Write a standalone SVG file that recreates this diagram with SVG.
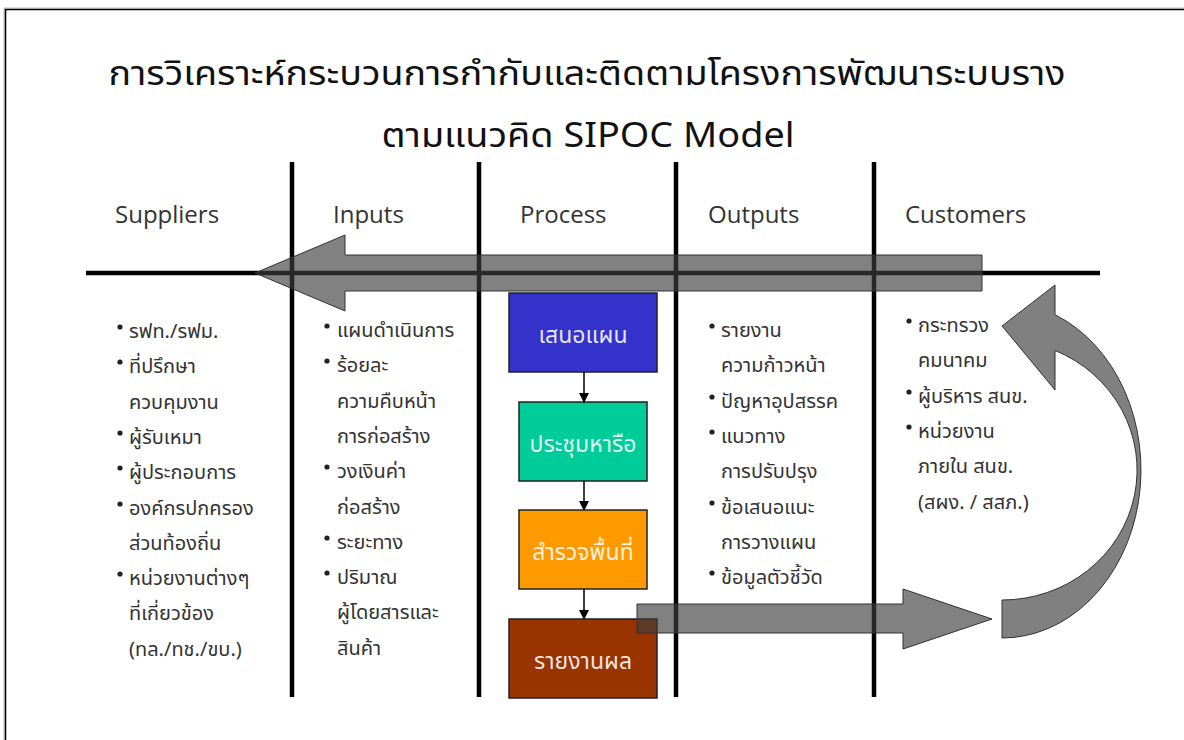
<svg xmlns="http://www.w3.org/2000/svg" width="1184" height="740" viewBox="0 0 1184 740">
<defs>
<style>
.th{font-family:"Noto Sans Thai","Noto Sans Thai UI","Leelawadee UI","Tahoma","Loma","Garuda","Noto Sans",sans-serif;}
.title{font-size:34px;fill:#111;text-anchor:middle;}
.hdr{font-family:"Open Sans","Noto Sans",sans-serif;font-size:24px;fill:#333;}
.li{font-size:20px;fill:#333;}
.bx{stroke:#222;stroke-width:1.5;}
.bt{font-size:23px;fill:#fff;fill-opacity:0.88;text-anchor:middle;}
.div{stroke:#000;stroke-width:4.5;}
.big{fill:#3d3d3d;fill-opacity:0.65;stroke:#333;stroke-width:1;}
.cur{fill:#808080;stroke:#333;stroke-width:1;}
.dot{fill:#222;}
.sm{stroke:#000;stroke-width:1.5;fill:none;}
</style>
<marker id="ah" markerWidth="10" markerHeight="10" refX="9" refY="5" orient="auto" markerUnits="userSpaceOnUse">
<path d="M0,0 L10,5 L0,10 Z" fill="#000"/>
</marker>
</defs>
<rect width="1184" height="740" fill="#fff"/>
<path d="M4,740 V8 H1184" fill="none" stroke="#bbb" stroke-width="1"/>
<path d="M5.5,740 V9.5 H1184" fill="none" stroke="#000" stroke-width="1.6"/>

<g id="title">
<text class="th title" x="587" y="85" textLength="957" lengthAdjust="spacingAndGlyphs">การวิเคราะห์กระบวนการกำกับและติดตามโครงการพัฒนาระบบราง</text>
<text class="th title" x="588" y="147" textLength="413" lengthAdjust="spacingAndGlyphs">ตามแนวคิด SIPOC Model</text>
</g>

<g id="headers">
<text class="hdr" x="115" y="223">Suppliers</text>
<text class="hdr" x="333" y="223">Inputs</text>
<text class="hdr" x="520" y="223">Process</text>
<text class="hdr" x="708" y="223">Outputs</text>
<text class="hdr" x="905" y="223">Customers</text>
</g>

<g id="grid">
<line class="div" x1="86" y1="273" x2="1100" y2="273"/>
<line class="div" x1="292" y1="162" x2="292" y2="697"/>
<line class="div" x1="479" y1="162" x2="479" y2="697"/>
<line class="div" x1="676" y1="162" x2="676" y2="697"/>
<line class="div" x1="874" y1="162" x2="874" y2="697"/>
</g>

<g id="process">
<g id="p1"><rect class="bx" x="509" y="293" width="148" height="79" fill="#3333cc"/><text class="th bt" x="583" y="343">เสนอแผน</text></g>
<g id="p2"><rect class="bx" x="519" y="402" width="128" height="79" fill="#00cc99"/><text class="th bt" x="583" y="452">ประชุมหารือ</text></g>
<g id="p3"><rect class="bx" x="519" y="510" width="128" height="79" fill="#ff9900"/><text class="th bt" x="583" y="560">สำรวจพื้นที่</text></g>
<g id="p4"><rect class="bx" x="509" y="619" width="148" height="79" fill="#993300"/><text class="th bt" x="583" y="669">รายงานผล</text></g>
</g>

<g id="connectors">
<line class="sm" x1="584" y1="372" x2="584" y2="402" marker-end="url(#ah)"/>
<line class="sm" x1="584" y1="481" x2="584" y2="510" marker-end="url(#ah)"/>
<line class="sm" x1="584" y1="589" x2="584" y2="619" marker-end="url(#ah)"/>
<path id="feedback" class="big" d="M982,255 H345 V235 L255,273 L345,311 V291 H982 Z"/>
<path id="toCustomer" class="big" d="M637,604 H903 V589 L992,619 L903,649 V633 H637 Z"/>
<path id="loop" class="cur" d="M1002,638 A139,168 0 0 0 1055,314.7 L1055,285 L1002,326 L1055,390 L1055,350.4 A135,130 0 0 1 1002,600 Z"/>
</g>

<g id="suppliers">
<circle class="dot" cx="120" cy="327" r="2.6"/><text class="th li" x="129" y="338">รฟท./รฟม.</text>
<circle class="dot" cx="120" cy="362" r="2.6"/><text class="th li" x="129" y="373.3">ที่ปรึกษา</text>
<text class="th li" x="129" y="408.6">ควบคุมงาน</text>
<circle class="dot" cx="120" cy="433" r="2.6"/><text class="th li" x="129" y="443.9">ผู้รับเหมา</text>
<circle class="dot" cx="120" cy="468" r="2.6"/><text class="th li" x="129" y="479.2">ผู้ประกอบการ</text>
<circle class="dot" cx="120" cy="504" r="2.6"/><text class="th li" x="129" y="514.5">องค์กรปกครอง</text>
<text class="th li" x="129" y="549.8">ส่วนท้องถิ่น</text>
<circle class="dot" cx="120" cy="574" r="2.6"/><text class="th li" x="129" y="585.1">หน่วยงานต่างๆ</text>
<text class="th li" x="129" y="620.4">ที่เกี่ยวข้อง</text>
<text class="th li" x="129" y="655.7">(ทล./ทช./ขบ.)</text>
</g>

<g id="inputs">
<circle class="dot" cx="327" cy="326" r="2.6"/><text class="th li" x="337" y="337">แผนดำเนินการ</text>
<circle class="dot" cx="327" cy="361" r="2.6"/><text class="th li" x="337" y="372.3">ร้อยละ</text>
<text class="th li" x="337" y="407.6">ความคืบหน้า</text>
<text class="th li" x="337" y="442.9">การก่อสร้าง</text>
<circle class="dot" cx="327" cy="467" r="2.6"/><text class="th li" x="337" y="478.2">วงเงินค่า</text>
<text class="th li" x="337" y="513.5">ก่อสร้าง</text>
<circle class="dot" cx="327" cy="538" r="2.6"/><text class="th li" x="337" y="548.8">ระยะทาง</text>
<circle class="dot" cx="327" cy="573" r="2.6"/><text class="th li" x="337" y="584.1">ปริมาณ</text>
<text class="th li" x="337" y="619.4">ผู้โดยสารและ</text>
<text class="th li" x="337" y="654.7">สินค้า</text>
</g>

<g id="outputs">
<circle class="dot" cx="712" cy="326" r="2.6"/><text class="th li" x="721" y="337">รายงาน</text>
<text class="th li" x="721" y="372.3">ความก้าวหน้า</text>
<circle class="dot" cx="712" cy="397" r="2.6"/><text class="th li" x="721" y="407.6">ปัญหาอุปสรรค</text>
<circle class="dot" cx="712" cy="432" r="2.6"/><text class="th li" x="721" y="442.9">แนวทาง</text>
<text class="th li" x="721" y="478.2">การปรับปรุง</text>
<circle class="dot" cx="712" cy="503" r="2.6"/><text class="th li" x="721" y="513.5">ข้อเสนอแนะ</text>
<text class="th li" x="721" y="548.8">การวางแผน</text>
<circle class="dot" cx="712" cy="573" r="2.6"/><text class="th li" x="721" y="584.1">ข้อมูลตัวชี้วัด</text>
</g>

<g id="customers">
<circle class="dot" cx="909" cy="321" r="2.6"/><text class="th li" x="918" y="332">กระทรวง</text>
<text class="th li" x="918" y="367.3">คมนาคม</text>
<circle class="dot" cx="909" cy="392" r="2.6"/><text class="th li" x="918" y="402.6">ผู้บริหาร สนข.</text>
<circle class="dot" cx="909" cy="427" r="2.6"/><text class="th li" x="918" y="437.9">หน่วยงาน</text>
<text class="th li" x="918" y="473.2">ภายใน สนข.</text>
<text class="th li" x="918" y="508.5">(สผง. / สสภ.)</text>
</g>
</svg>
